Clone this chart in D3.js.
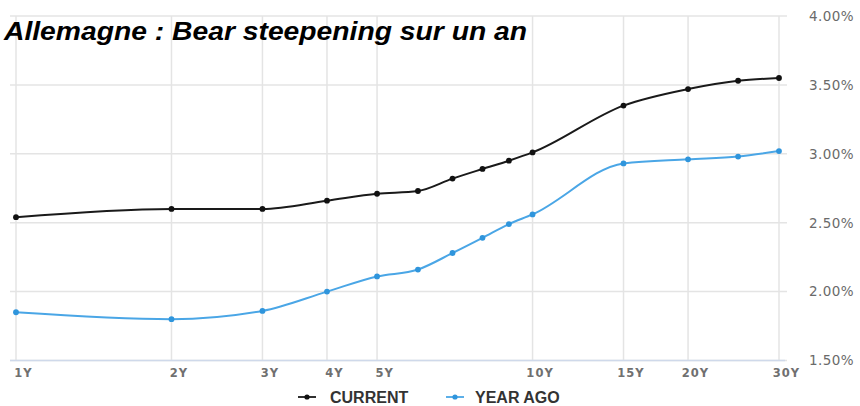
<!DOCTYPE html>
<html>
<head>
<meta charset="utf-8">
<script src="https://cdn.jsdelivr.net/npm/d3@7"></script>
<style>
  html, body { margin: 0; padding: 0; background: #fff; }
  svg { display: block; }
</style>
</head>
<body>
<svg id="chart" width="860" height="406"></svg>
<script>
// German government yield curve: today vs. one year earlier (maturity in years, yield in %)
const maturities = [1, 2, 3, 4, 5, 6, 7, 8, 9, 10, 15, 20, 25, 30];
const current    = [2.54, 2.60, 2.60, 2.66, 2.71, 2.73, 2.82, 2.89, 2.95, 3.01, 3.35, 3.47, 3.53, 3.55];
const yearAgo    = [1.85, 1.80, 1.86, 2.00, 2.11, 2.16, 2.28, 2.39, 2.49, 2.56, 2.93, 2.96, 2.98, 3.02];

const xTickValues = [1, 2, 3, 4, 5, 10, 15, 20, 30];
const xTickLabels = ["1Y", "2Y", "3Y", "4Y", "5Y", "10Y", "15Y", "20Y", "30Y"];
const yTickValues = [1.5, 2.0, 2.5, 3.0, 3.5, 4.0];

const seriesNames  = ["CURRENT", "YEAR AGO"];
const seriesColors = ["#1a1a1a", "#4aa6e6"];
const markerColors = ["#111111", "#2f95dc"];

const titleText = "Allemagne : Bear steepening sur un an";

const svg = d3.select("#chart");

const plot = { left: 10, right: 787, top: 16, bottom: 360.5 };

const x = d3.scaleLog().domain([1, 30]).range([16, 779]);
const y = d3.scaleLinear().domain([1.5, 4.0]).range([plot.bottom, plot.top]);

// horizontal grid
svg.append("g")
  .selectAll("line")
  .data(yTickValues)
  .join("line")
  .attr("x1", plot.left).attr("x2", plot.right)
  .attr("y1", d => y(d)).attr("y2", d => y(d))
  .attr("stroke", "#e4e4e4").attr("stroke-width", 1.5);

// vertical grid
svg.append("g")
  .selectAll("line")
  .data(xTickValues)
  .join("line")
  .attr("x1", d => x(d)).attr("x2", d => x(d))
  .attr("y1", plot.top).attr("y2", plot.bottom)
  .attr("stroke", "#e4e4e4").attr("stroke-width", 1.5);

// x axis line
svg.append("line")
  .attr("x1", plot.left).attr("x2", 785)
  .attr("y1", plot.bottom).attr("y2", plot.bottom)
  .attr("stroke", "#cfd9ea").attr("stroke-width", 1.5);

// x axis labels
const xAxis = d3.axisBottom(x)
  .tickValues(xTickValues)
  .tickFormat((d, i) => xTickLabels[i])
  .tickSize(0)
  .tickPadding(8);
const gx = svg.append("g")
  .attr("transform", `translate(0,${plot.bottom})`)
  .call(xAxis);
gx.select(".domain").remove();
gx.selectAll("text")
  .attr("dx", 7)
  .attr("fill", "#707070")
  .style("font-family", "'DejaVu Sans', Verdana, sans-serif")
  .style("font-size", "11.5px")
  .style("font-weight", "bold")
  .style("letter-spacing", "1px");

// y axis labels on the right
const yAxis = d3.axisRight(y)
  .tickValues(yTickValues)
  .tickFormat(d => d3.format(".2f")(d) + "%")
  .tickSize(0)
  .tickPadding(0);
const gy = svg.append("g")
  .attr("transform", "translate(809,0)")
  .call(yAxis);
gy.select(".domain").remove();
gy.selectAll("text")
  .attr("fill", "#6a6a6a")
  .style("font-family", "'DejaVu Sans', Verdana, sans-serif")
  .style("font-size", "13.5px")
  .style("letter-spacing", "0.4px");

// series
const line = d3.line()
  .x((d, i) => x(maturities[i]))
  .y(d => y(d))
  .curve(d3.curveMonotoneX);

[current, yearAgo].forEach((values, s) => {
  const g = svg.append("g");
  g.append("path")
    .datum(values)
    .attr("d", line)
    .attr("fill", "none")
    .attr("stroke", seriesColors[s])
    .attr("stroke-width", 2);
  g.selectAll("circle")
    .data(values)
    .join("circle")
    .attr("cx", (d, i) => x(maturities[i]))
    .attr("cy", d => y(d))
    .attr("r", 2.9)
    .attr("fill", markerColors[s]);
});

// legend
const legendItems = [
  { sx: 298, tx: 330 },
  { sx: 446, tx: 475 }
];
legendItems.forEach((item, s) => {
  const g = svg.append("g");
  g.append("line")
    .attr("x1", item.sx).attr("x2", item.sx + 18)
    .attr("y1", 397).attr("y2", 397)
    .attr("stroke", seriesColors[s]).attr("stroke-width", 1.8);
  g.append("circle")
    .attr("cx", item.sx + 9).attr("cy", 397).attr("r", 2.6)
    .attr("fill", markerColors[s]);
  g.append("text")
    .attr("x", item.tx).attr("y", 397)
    .attr("dy", "0.36em")
    .attr("fill", "#333")
    .style("font-family", "'Liberation Sans', Arial, sans-serif")
    .style("font-size", "16px")
    .style("font-weight", "bold")
    .text(seriesNames[s]);
});

// title
svg.append("text")
  .attr("x", 4).attr("y", 40)
  .attr("fill", "#000")
  .attr("textLength", 523)
  .attr("lengthAdjust", "spacingAndGlyphs")
  .style("font-family", "'Liberation Sans', Arial, sans-serif")
  .style("font-size", "26.5px")
  .style("font-weight", "bold")
  .style("font-style", "italic")
  .text(titleText);
</script>
</body>
</html>
